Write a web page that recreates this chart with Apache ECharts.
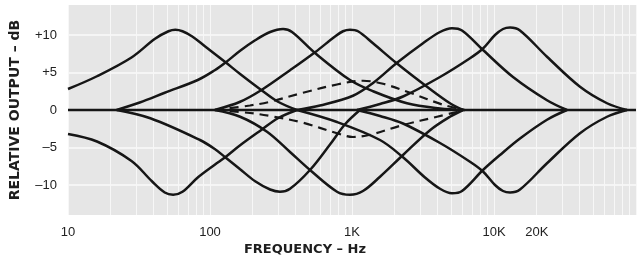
<!DOCTYPE html>
<html><head><meta charset="utf-8">
<script src="https://cdn.jsdelivr.net/npm/echarts@6/dist/echarts.min.js"></script>
<style>html,body{margin:0;padding:0;background:#fff}#c{width:644px;height:265px}</style>
</head><body><div id="c"></div>
<script>
// Tick values and labels
const xTickHz = [10, 100, 1000, 10000, 20000];
const xTickLabels = ['10', '100', '1K', '10K', '20K'];
const yTickDb = [-10, -5, 0, 5, 10];
const yTickLabels = ['\u201310', '\u20135', '0', '+5', '+10'];

// Curves: [frequency Hz, relative output dB]
const flatResponse = [[10, 0], [100000, 0]];
const band1Boost = [[10,2.8],[16,4.5],[28,7.0],[41,9.5],[51,10.5],[57,10.7],[64,10.5],[75,9.8],[92,8.5],[128,6.4],[163,4.8],[232,2.6],[301,1.1],[410,0]];
const band1Cut = [[10,-3.2],[16,-4.2],[28,-6.8],[39,-9.5],[48,-11.0],[55,-11.3],[64,-10.9],[82,-9.0],[108,-7.3],[128,-6.3],[163,-4.7],[232,-2.6],[301,-1.1],[410,0]];
const band2Boost = [[22,0],[32,1.0],[48,2.3],[82,4.0],[108,5.3],[128,6.3],[163,7.9],[208,9.3],[265,10.4],[327,10.8],[378,10.4],[549,7.6],[968,4.0],[1406,2.5],[2440,0.9],[4166,0.2],[6049,0]];
const band2Cut = [[22,0],[38,-1.1],[85,-4.0],[108,-5.2],[128,-6.3],[163,-7.9],[208,-9.5],[265,-10.6],[311,-10.9],[366,-10.5],[506,-8.0],[700,-4.6],[893,-1.9],[1138,0]];
const band3Boost = [[108,0],[163,1.1],[232,2.7],[366,5.3],[549,7.7],[759,9.8],[864,10.5],[968,10.7],[1102,10.5],[1406,8.9],[2075,6.2],[3543,2.8],[4899,0.9],[6049,0]];
const band3Cut = [[108,0],[163,-0.9],[252,-2.9],[366,-5.6],[506,-8.0],[784,-10.9],[968,-11.3],[1195,-10.8],[1575,-8.9],[2287,-6.0],[3543,-2.7],[4899,-0.9],[6049,0]];
const band4Boost = [[410,0],[595,0.6],[1016,1.9],[1406,3.6],[2075,6.3],[3162,8.9],[4166,10.4],[5060,10.9],[5952,10.6],[8366,8.0],[13612,4.4],[23620,1.3],[32660,0]];
const band4Cut = [[410,0],[784,-1.6],[1575,-4.0],[2287,-6.3],[3267,-9.0],[4166,-10.5],[5060,-11.1],[5952,-10.8],[8366,-8.0],[11022,-6.0],[15240,-3.8],[23620,-1.3],[32660,0]];
const band5Boost = [[1084,0],[1575,0.8],[2287,1.8],[4166,4.4],[6776,6.9],[8366,8.2],[10163,10.0],[11572,10.8],[12966,11.0],[15240,10.6],[23620,7.1],[40330,3.1],[62500,0.9],[86450,0]];
const band5Cut = [[1084,0],[1575,-0.8],[2287,-1.8],[4166,-4.4],[6776,-6.9],[8366,-8.2],[10163,-10.0],[11572,-10.8],[12966,-11.0],[15240,-10.6],[23620,-7.1],[40330,-3.1],[62500,-0.9],[86450,0]];
const partialBoost = [[108,0],[191,0.6],[265,1.1],[452,2.3],[784,3.4],[1195,3.9],[1653,3.5],[2563,2.3],[4373,0.7],[6249,0]];
const partialCut = [[108,0],[191,-0.4],[265,-0.8],[452,-1.7],[784,-3.1],[1016,-3.6],[1339,-3.3],[2287,-2.0],[3968,-0.9],[6249,0]];

const solidCurves = [flatResponse, band1Boost, band1Cut, band2Boost, band2Cut, band3Boost, band3Cut, band4Boost, band4Cut, band5Boost, band5Cut];
const dashedCurves = [partialBoost, partialCut];

// grid line positions (log paper)
const xGridHz = [];
for (let d = 10; d < 100000; d *= 10) for (let m = 1; m < 10; m++) xGridHz.push(d * m);
xGridHz.push(100000);

const chart = echarts.init(document.getElementById('c'), null, {renderer: 'canvas'});
const ink = '#161616';
const series = [];
solidCurves.forEach(c => series.push({type: 'line', data: c, symbol: 'none', smooth: 0.35, silent: true,
  lineStyle: {color: ink, width: 2.5}}));
dashedCurves.forEach(c => series.push({type: 'line', data: c, symbol: 'none', smooth: 0.35, silent: true,
  lineStyle: {color: ink, width: 2.2, type: [9, 6]}}));

chart.setOption({
  animation: false,
  backgroundColor: '#ffffff',
  grid: {left: 68, right: 8, top: 5, bottom: 50, show: true, backgroundColor: '#e6e6e6', borderWidth: 0},
  xAxis: {
    type: 'log', logBase: 10, min: 10, max: 100000,
    axisLine: {show: false},
    axisTick: {show: false, customValues: xGridHz},
    splitLine: {show: true, lineStyle: {color: '#f7f7f7', width: 1}},
    axisLabel: {
      customValues: xTickHz, margin: 11, fontSize: 13, color: '#222', fontFamily: 'Liberation Sans',
      formatter: v => { const i = xTickHz.findIndex(t => Math.abs(t - v) / t < 1e-6); return i >= 0 ? xTickLabels[i] : ''; }
    }
  },
  yAxis: {
    type: 'value', min: -14, max: 14,
    axisLine: {show: false},
    axisTick: {show: false, customValues: yTickDb},
    splitLine: {show: true, lineStyle: {color: '#fafafa', width: 1.5}},
    axisLabel: {
      customValues: yTickDb, margin: 11, fontSize: 13, color: '#222', fontFamily: 'Liberation Sans',
      formatter: v => { const i = yTickDb.indexOf(Math.round(v)); return i >= 0 ? yTickLabels[i] : ''; }
    }
  },
  graphic: [
    {type: 'text', x: 15, y: 110, rotation: Math.PI / 2, silent: true,
      style: {text: 'RELATIVE OUTPUT \u2013 dB', font: 'bold 14px "DejaVu Sans"', fill: '#1e1e1e', textAlign: 'center', textVerticalAlign: 'middle'}},
    {type: 'text', x: 305, y: 250, silent: true,
      style: {text: 'FREQUENCY \u2013 Hz', font: 'bold 13px "DejaVu Sans"', fill: '#1e1e1e', textAlign: 'center', textVerticalAlign: 'middle'}}
  ],
  series: series
});
</script></body></html>
